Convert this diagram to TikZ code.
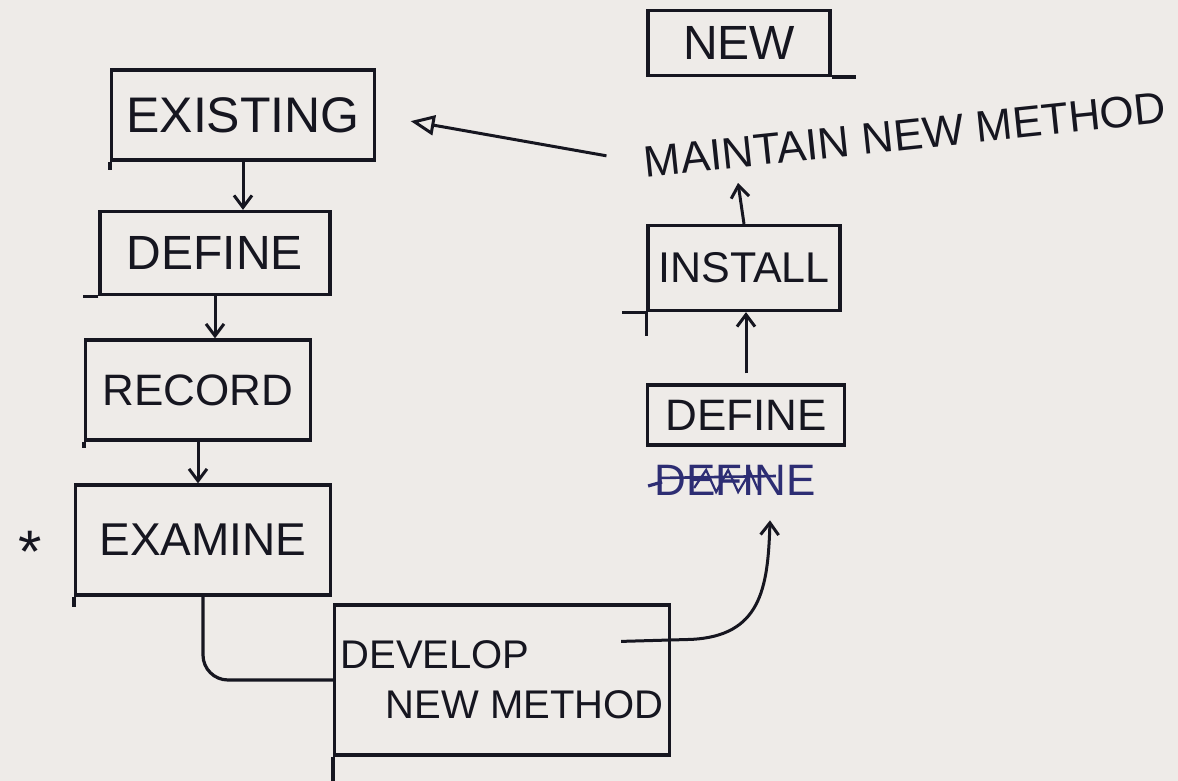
\documentclass[tikz,border=0pt]{standalone}
\usepackage{fontspec}
\setmainfont{Liberation Sans}
\usetikzlibrary{arrows.meta,calc}
\definecolor{paper}{RGB}{238,235,232}
\definecolor{ink}{RGB}{22,22,32}
\definecolor{blueink}{RGB}{45,45,115}
\begin{document}
\begin{tikzpicture}[x=1pt,y=-1pt,
  box/.style={draw=ink,line width=3.2pt,inner sep=0pt,text=ink},
  hand/.style={draw=ink,line width=3.2pt},
  arr/.style={draw=ink,line width=3pt,-{Straight Barb[length=12pt,width=18pt,line width=3pt]}}]
\fill[paper] (0,0) rectangle (1178,781);
\useasboundingbox (0,0) rectangle (1178,781);

% left column
\node[box,minimum width=263pt,minimum height=90pt,font=\fontsize{50}{60}\selectfont] (existing) at (243,115) {EXISTING};
\node[box,minimum width=230pt,minimum height=83pt,font=\fontsize{48}{58}\selectfont] (define1) at (215,253) {DEFINE};
\node[box,minimum width=225pt,minimum height=100pt,font=\fontsize{44}{52}\selectfont] (record) at (198,390) {RECORD};
\node[box,minimum width=255pt,minimum height=110pt,font=\fontsize{46}{54}\selectfont] (examine) at (203,540) {EXAMINE};
\node[text=ink,anchor=base,inner sep=0pt,font=\fontsize{60}{60}\selectfont] (star) at (30,572) {*};
\node[box,minimum width=335pt,minimum height=150pt,align=left,font=\fontsize{40}{50}\selectfont] (develop) at (502,680) {DEVELOP\\\hspace*{45pt}NEW METHOD};

% right column
\node[box,minimum width=197pt,minimum height=60pt,font=\fontsize{44}{52}\selectfont] (define2) at (746,415) {DEFINE};
\node[text=blueink,inner sep=0pt,font=\fontsize{44}{52}\selectfont] (strike) at (735,480) {DEFINE};
\node[box,minimum width=192pt,minimum height=85pt,font=\fontsize{43}{52}\selectfont] (install) at (744,268) {INSTALL};
\node[box,minimum width=182pt,minimum height=65pt,font=\fontsize{48}{56}\selectfont] (new) at (739,43) {NEW};
\node[text=ink,rotate=6,inner sep=0pt,font=\fontsize{44}{52}\selectfont] (maintain) at (905,135) {MAINTAIN NEW METHOD};

\coordinate (dtip) at ([xshift=35pt,yshift=-25pt]strike.south);
\coordinate (mtip) at ([xshift=-6pt]install.north |- 0,183);

% scribbles over the struck-out word
\draw[blueink,line width=2.6pt] ([xshift=4pt,yshift=2pt]strike.west) -- ([xshift=-40pt,yshift=4pt]strike.east);
\draw[blueink,line width=2.2pt] ([xshift=40pt,yshift=-8pt]strike.west) -- ++(12,-18) -- ++(10,22) -- ++(12,-22) -- ++(10,22) -- ++(12,-20) -- ++(8,18);
\draw[blueink,line width=3.2pt] ([xshift=-6pt,yshift=-6pt]strike.west) -- ++(14,-4);

% hand-drawn overhangs
\draw[hand] (existing.south west) -- ++(0,8);
\draw[hand] (define1.south west) -- ++(-15,0);
\draw[hand] (record.south west) -- ++(0,6);
\draw[hand] (examine.south west) -- ++(0,10);
\draw[hand] (develop.south west) -- ++(0,26);
\draw[hand] (install.south west) -- ++(-24,0);
\draw[hand] (install.south west) -- ++(0,24);
\draw[hand] (new.south east) -- ++(24,0);

% connectors
\draw[arr] (existing.south) -- (existing.south |- define1.north);
\draw[arr] (define1.south) -- (define1.south |- record.north);
\draw[arr] (record.south) -- (record.south |- examine.north);
\draw[hand,rounded corners=25pt] (examine.south) |- (develop.west);
\draw[arr] ([xshift=-50pt,yshift=-38pt]develop.north east) -- ++(70,-2) .. controls (760,636) and (768,590) .. (dtip);
\draw[arr] ([yshift=10pt]define2.north) -- (define2.north |- install.south);
\draw[arr] (install.north) -- (mtip);
\draw[draw=ink,line width=3pt,-{Triangle[open,length=24pt,width=20pt,line width=3pt]},shorten <=38pt,shorten >=35pt] (maintain.west) -- (existing.east);
\end{tikzpicture}
\end{document}
